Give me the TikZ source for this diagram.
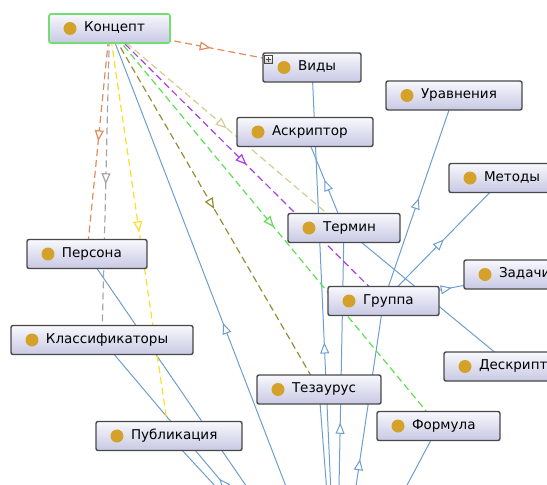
\documentclass[tikz,border=0pt]{standalone}
\usepackage{fontspec}
\setmainfont{DejaVu Sans}
\usepackage{tikz}
\usetikzlibrary{arrows.meta,backgrounds,decorations.markings,positioning}
\definecolor{subblue}{RGB}{108,158,208}
\definecolor{dotgold}{RGB}{212,162,42}
\definecolor{boxline}{RGB}{72,72,72}
\definecolor{boxtop}{RGB}{248,248,253}
\definecolor{boxbot}{RGB}{200,200,228}
\definecolor{rootgreen}{RGB}{112,222,112}
\definecolor{relorange}{RGB}{226,140,92}
\definecolor{relgray}{RGB}{165,165,165}
\definecolor{relyellow}{RGB}{250,222,40}
\definecolor{relolive}{RGB}{150,142,52}
\definecolor{relgreen}{RGB}{96,222,84}
\definecolor{relpurple}{RGB}{172,62,232}
\definecolor{relkhaki}{RGB}{212,204,146}

\begin{document}
\begin{tikzpicture}[x=1pt, y=-1pt]
    \tikzstyle{cls} = [rectangle, draw=boxline, line width=1.4pt, rounded corners=2pt, top color=boxtop, bottom color=boxbot, minimum height=29pt, inner xsep=0pt, inner ysep=0pt, align=left, text height=9.8pt, text depth=3pt, font=\fontsize{13.5}{15}\selectfont, execute at begin node={\hspace*{35pt}}, path picture={\fill[dotgold] ([xshift=21pt]path picture bounding box.west) circle (6.5pt);}]
    \tikzstyle{root} = [cls, draw=rootgreen, line width=1.6pt]
    \tikzstyle{plusbox} = [rectangle, draw=boxline, line width=0.6pt, top color=white, bottom color=gray!45, minimum size=7.5pt, inner sep=0pt, path picture={\draw[line width=0.8pt] (path picture bounding box.center) +(-2.3pt,0) -- +(2.3pt,0) (path picture bounding box.center) +(0,-2.3pt) -- +(0,2.3pt);}]
    \tikzstyle{sub} = [draw=subblue, line width=1pt, postaction={decorate}, decoration={markings, mark=at position 0.5 with {\arrow{Triangle[open, length=11pt, width=9pt, fill=white]}}}]
    \tikzstyle{rel} = [line width=1.2pt, dash pattern=on 7pt off 4pt, postaction={decorate}, decoration={markings, mark=at position 0.5 with {\arrow{Triangle[open, length=11pt, width=9pt, fill=white]}}}]

    \useasboundingbox (0,0) rectangle (547,485);

    % Concept
    \node [root, text width=121pt] (konc) at (109.5,28.5) {Концепт};

    % Kinds
    \node [cls, text width=98pt] (vidy) at (312,67.5) {Виды};
    \node [plusbox] (vidyplus) at (268.5,59.5) {};

    % Equations
    \node [cls, text width=136pt] (uravn) at (454,95.5) {Уравнения};

    % Ascriptor
    \node [cls, text width=136pt] (askr) at (305,132) {Аскриптор};

    % Methods
    \node [cls, text width=110pt] (metody) at (504,178) {Методы};

    % Term
    \node [cls, text width=112pt] (termin) at (344,228) {Термин};

    % Tasks
    \node [cls, text width=112pt] (zadachi) at (520,274.5) {Задачи};

    % Group
    \node [cls, text width=111pt] (gruppa) at (383.5,301) {Группа};

    % Person
    \node [cls, text width=120pt] (persona) at (87,254) {Персона};

    % Classifiers
    \node [cls, text width=182pt] (klass) at (102,340) {Классификаторы};

    % Descriptor
    \node [cls, text width=136pt] (deskr) at (512,366.5) {Дескриптор};

    % Thesaurus
    \node [cls, text width=124pt] (tezaurus) at (319,389.5) {Тезаурус};

    % Formula
    \node [cls, text width=123pt] (formula) at (438.5,426) {Формула};

    % Publication
    \node [cls, text width=146pt] (publ) at (169,436) {Публикация};

    % common parent below the view
    \coordinate (hub) at (336.5,617.5);

    \begin{scope}[on background layer]
    % Subclass arrows
    \path [sub] (hub) -- (konc.center);
    \path [sub] (hub) -- (vidy.center);
    \path [sub] (hub) -- (termin.center);
    \path [sub] (hub) -- (gruppa.center);
    \path [sub] (hub) -- (tezaurus.center);
    \path [sub] (hub) -- (formula.center);
    \path [sub] (hub) -- (persona.center);
    \path [sub] (hub) -- (klass.center);
    \path [sub] (hub) -- (publ.center);
    \path [sub] (termin.center) -- (askr.center);
    \path [sub] (termin.center) -- (deskr.center);
    \path [sub] (gruppa.center) -- (uravn.center);
    \path [sub] (gruppa.center) -- (metody.center);
    \path [sub] (gruppa.center) -- (zadachi.center);

    % Relations
    \path [rel, draw=relorange] (konc.center) -- (vidy.center);
    \path [rel, draw=relorange] (konc.center) -- (persona.center);
    \path [rel, draw=relgray] (konc.center) -- (klass.center);
    \path [rel, draw=relyellow] (konc.center) -- (publ.center);
    \path [rel, draw=relolive] (konc.center) -- (tezaurus.center);
    \path [rel, draw=relgreen] (konc.center) -- (formula.center);
    \path [rel, draw=relpurple] (konc.center) -- (gruppa.center);
    \path [rel, draw=relkhaki] (konc.center) -- (termin.center);
    \end{scope}

\end{tikzpicture}
\end{document}
